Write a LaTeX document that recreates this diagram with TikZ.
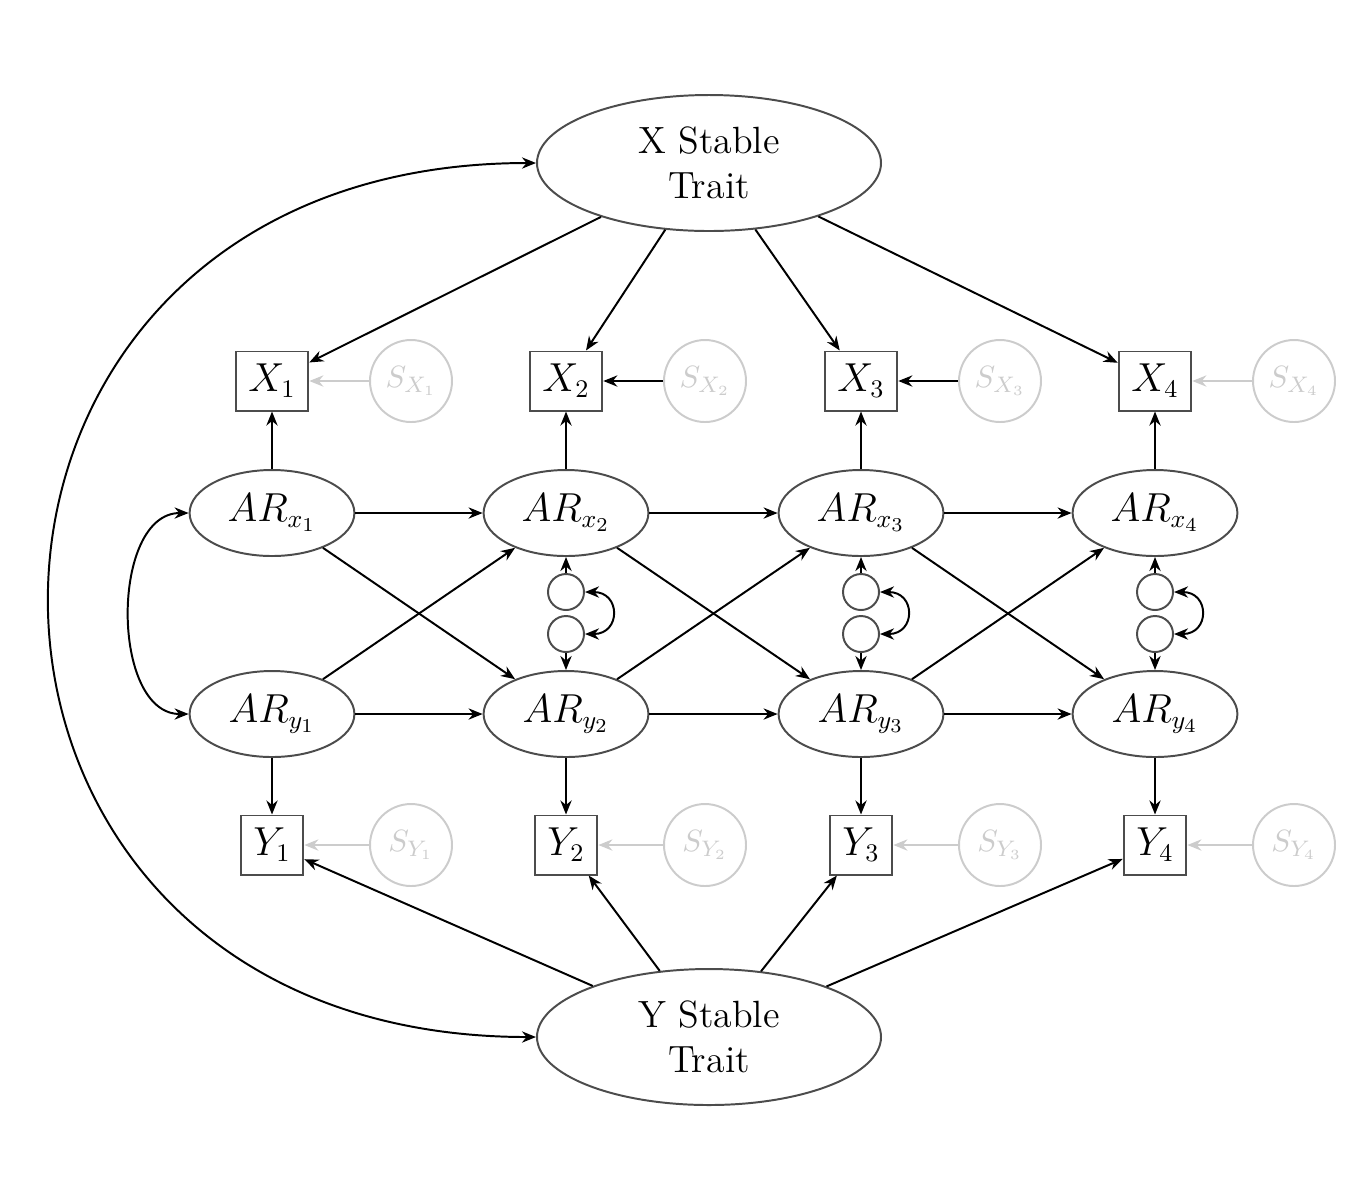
\documentclass[tikz,border=0pt]{standalone}
\usetikzlibrary{arrows.meta,shapes.geometric}
\begin{document}
\begin{tikzpicture}[
  >={Stealth[length=5pt,width=4pt]},
  every path/.style={line width=0.7pt},
  arr/.style={->, line width=0.7pt},
  garr/.style={->, line width=0.7pt, draw=gray!40},
  obs/.style={draw=black!70, line width=0.7pt, rectangle, minimum height=0.71cm, inner sep=4.5pt, font=\fontsize{13.5pt}{16pt}\selectfont},
  lat/.style={draw=black!70, line width=0.7pt, ellipse, minimum width=2.06cm, minimum height=1.075cm, inner sep=0pt, font=\fontsize{13.5pt}{16pt}\selectfont},
  trait/.style={draw=black!70, line width=0.7pt, ellipse, minimum width=4.3cm, minimum height=1.7cm, inner sep=0pt, align=center, font=\fontsize{13.5pt}{16pt}\selectfont},
  err/.style={draw=gray!40, text=gray!40, circle, minimum size=1.025cm, inner sep=0pt, line width=0.7pt, font=\fontsize{10.8pt}{13pt}\selectfont},
  res/.style={draw=black!70, circle, minimum size=0.45cm, inner sep=0pt, line width=0.7pt},
]
\useasboundingbox (0,0) rectangle (17.0375,-15);

\node[trait] (XST) at (8.8625,-2.0375) {X Stable\\Trait};
\node[trait] (YST) at (8.8625,-12.9625) {Y Stable\\Trait};

\foreach \i/\x in {1/3.4,2/7.075,3/10.7625,4/14.4375}{
  \node[obs] (X\i) at (\x,-4.7625) {$X_\i$};
  \node[err] (SX\i) at (\x+1.7375,-4.7625) {$S_{X_\i}$};
  \node[lat] (ARx\i) at (\x,-6.4125) {$AR_{x_\i}$};
  \node[lat] (ARy\i) at (\x,-8.925) {$AR_{y_\i}$};
  \node[obs] (Y\i) at (\x,-10.5625) {$Y_\i$};
  \node[err] (SY\i) at (\x+1.7375,-10.5625) {$S_{Y_\i}$};
  \draw[arr] (XST) -- (X\i);
  \draw[arr] (YST) -- (Y\i);
  \draw[arr] (ARx\i) -- (X\i);
  \draw[arr] (ARy\i) -- (Y\i);
  \draw[garr] (SY\i) -- (Y\i);
}
\draw[garr] (SX1) -- (X1);
\draw[arr] (SX2) -- (X2);
\draw[arr] (SX3) -- (X3);
\draw[garr] (SX4) -- (X4);

\foreach \i/\j in {1/2,2/3,3/4}{
  \draw[arr] (ARx\i) -- (ARx\j);
  \draw[arr] (ARy\i) -- (ARy\j);
  \draw[arr] (ARx\i) -- (ARy\j);
  \draw[arr] (ARy\i) -- (ARx\j);
}

\foreach \i/\x in {2/7.075,3/10.7625,4/14.4375}{
  \node[res] (cU\i) at (\x,-7.4) {};
  \node[res] (cL\i) at (\x,-7.925) {};
  \draw[arr] (cU\i) -- (ARx\i);
  \draw[arr] (cL\i) -- (ARy\i);
  \draw[<->] (cU\i.east) .. controls +(0.45,0) and +(0.45,0) .. (cL\i.east);
}

\draw[<->] (ARx1.west) to[out=180,in=180] (ARy1.west);
\draw[<->] (XST.west) .. controls +(-8.1,0) and +(-8.1,0) .. (YST.west);
\end{tikzpicture}
\end{document}
